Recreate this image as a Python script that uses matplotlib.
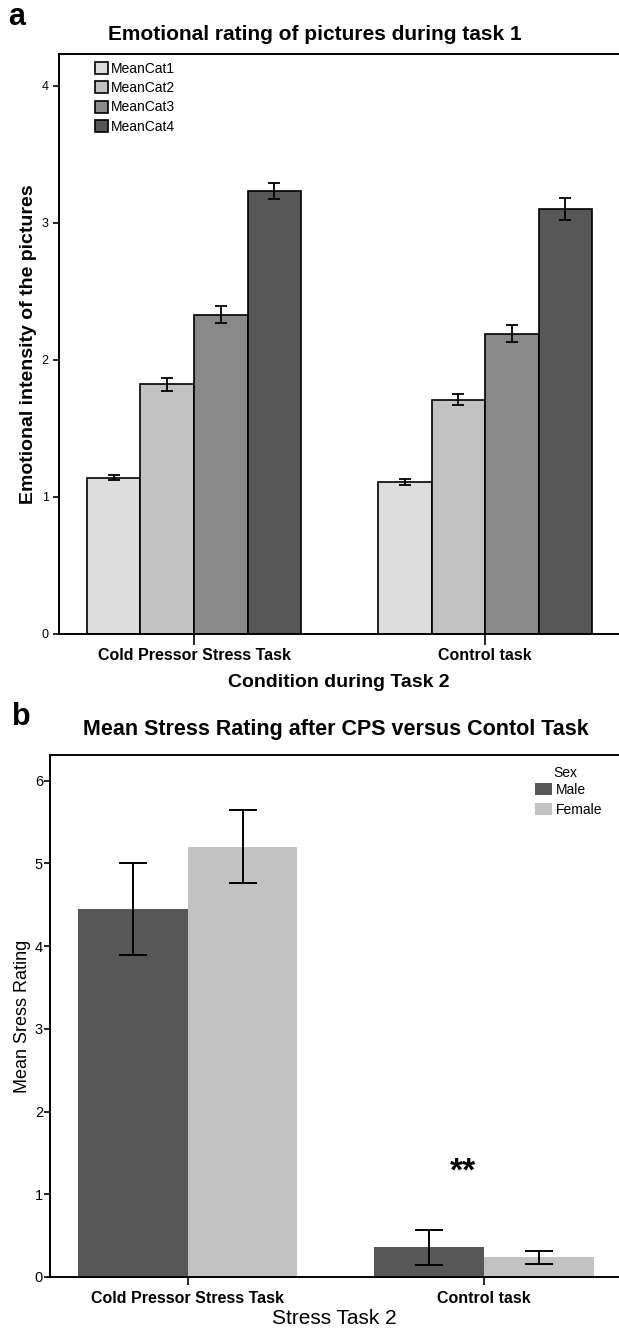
import numpy as np
import matplotlib
matplotlib.use("Agg")
import matplotlib.pyplot as plt
from matplotlib.patches import Patch

plt.rcParams['font.family'] = ['Liberation Sans', 'DejaVu Sans']

# ================= DATA =================
conditions = ["Cold Pressor Stress Task", "Control task"]

# panel a: emotional rating per picture category
cat_names = ["MeanCat1", "MeanCat2", "MeanCat3", "MeanCat4"]
cat_means = [[1.14, 1.11],
             [1.82, 1.71],
             [2.33, 2.19],
             [3.23, 3.10]]
cat_err = [[0.02, 0.02],
           [0.05, 0.04],
           [0.06, 0.06],
           [0.06, 0.08]]
cat_colors = ["#dddddd", "#c2c2c2", "#898989", "#575757"]

# panel b: stress rating by sex
sex_names = ["Male", "Female"]
sex_means = [[4.45, 0.36],
             [5.20, 0.24]]
sex_err = [[0.56, 0.21],
           [0.44, 0.08]]
sex_colors = ["#575757", "#c2c2c2"]

W, H = 619, 1330
fig = plt.figure(figsize=(W / 100, H / 100), dpi=100)

# ================= PANEL A =================
axa = fig.add_axes([59 / W, 1 - 634 / H, (W - 59) / W, 580 / H])
x = np.arange(len(conditions))
bw = 0.184
for i, name in enumerate(cat_names):
    pos = x + (i - 1.5) * bw
    axa.bar(pos, cat_means[i], bw, color=cat_colors[i], edgecolor="black",
            linewidth=1.2, label=name, zorder=2)
    axa.errorbar(pos, cat_means[i], yerr=cat_err[i], fmt="none", ecolor="black",
                 elinewidth=1.3, capsize=4.5, capthick=1.3, zorder=3)

axa.set_xlim(-0.464, 1.46)
axa.set_ylim(0, 4.23)
axa.set_yticks([0, 1, 2, 3, 4])
axa.set_xticks(x)
axa.set_xticklabels(conditions, fontsize=11.5, fontweight="bold")
axa.tick_params(axis="x", length=8, width=1.2, pad=2)
axa.tick_params(axis="y", length=4, width=1.2, labelsize=9)
for s in ["left", "bottom", "top"]:
    axa.spines[s].set_linewidth(1.4)
axa.spines["right"].set_visible(False)
axa.set_ylabel("Emotional intensity of the pictures", fontsize=14, fontweight="bold", labelpad=3)
axa.set_xlabel("Condition during Task 2", fontsize=14, fontweight="bold", labelpad=8)
fig.text(108 / W, 1 - 34 / H, "Emotional rating of pictures during task 1", fontsize=15,
         fontweight="bold", ha="left", va="center")
axa.legend(loc="upper left", bbox_to_anchor=(0.054, 0.996), frameon=False,
           fontsize=10, handlelength=0.95, handleheight=0.95, handletextpad=0.2,
           labelspacing=0.38, borderaxespad=0.2, borderpad=0.2)
fig.text(8 / W, 1 - 17 / H, "a", fontsize=22, fontweight="bold", va="center", ha="left")

# ================= PANEL B =================
axb = fig.add_axes([50 / W, 1 - 1277 / H, (W - 50) / W, 522 / H])
bw2 = 0.37
for i, name in enumerate(sex_names):
    pos = x + (i - 0.5) * bw2
    axb.bar(pos, sex_means[i], bw2, color=sex_colors[i], edgecolor="none",
            label=name, zorder=2)
    axb.errorbar(pos, sex_means[i], yerr=sex_err[i], fmt="none", ecolor="black",
                 elinewidth=1.4, capsize=10, capthick=1.4, zorder=3)

axb.text(x[1] - 0.07, 1.27, "**", fontsize=24, fontweight="bold", ha="center", va="center")
axb.set_xlim(-0.466, 1.456)
axb.set_ylim(0, 6.31)
axb.set_yticks([0, 1, 2, 3, 4, 5, 6])
axb.set_xticks(x)
axb.set_xticklabels(conditions, fontsize=11.5, fontweight="bold")
axb.tick_params(axis="x", length=6, width=1.2, pad=4)
axb.tick_params(axis="y", length=4, width=1.2, labelsize=10.5, pad=1)
for s in ["left", "bottom", "top"]:
    axb.spines[s].set_linewidth(1.4)
axb.spines["right"].set_visible(False)
axb.set_ylabel("Mean Sress Rating", fontsize=13, labelpad=3)
axb.set_xlabel("Stress Task 2", fontsize=15, labelpad=2)
fig.text(83 / W, 1 - 730 / H, "Mean Stress Rating after CPS versus Contol Task", fontsize=15.5,
         fontweight="bold", ha="left", va="center")
handles = [Patch(facecolor=c, edgecolor="none") for c in sex_colors]
axb.legend(handles, sex_names, loc="upper left", bbox_to_anchor=(0.835, 0.965),
           frameon=False, fontsize=10, handlelength=1.2, handleheight=1.0,
           handletextpad=0.3, labelspacing=0.4, borderpad=0.2)
fig.text(553 / W, 1 - 773 / H, "Sex", fontsize=10, ha="left", va="center")
fig.text(12 / W, 1 - 717 / H, "b", fontsize=22, fontweight="bold", va="center", ha="left")

fig.savefig("out.png", dpi=100)
